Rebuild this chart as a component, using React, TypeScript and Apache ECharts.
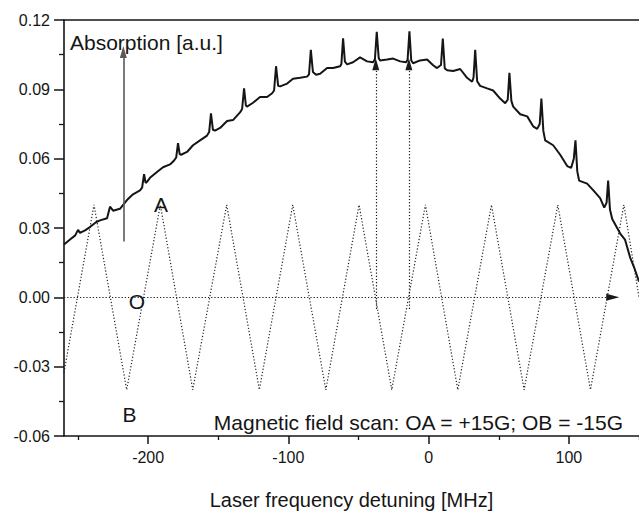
import React, { useEffect, useRef } from "react";
import * as echarts from "echarts";

// Absorption signal
const absorptionX = [
  -260, -255.7, -252, -250, -248.6, -245, -241.5, -237.2, -234.3, -229.3, -227.2, -225, -220.1, -215.1, -210.8,
  -205.8, -204.3, -202.9, -201.8, -200.8, -198.7, -193.7, -189.4, -184.4, -181.5, -180, -178.7, -177.5, -176.5,
  -172.3, -168, -163, -158, -156.5, -155.2, -153.8, -152.3, -148.7, -143.7, -139.5, -134.5, -133, -131.6, -130.3,
  -129.5, -125.2, -120.2, -115.2, -111.6, -110.2, -108.8, -107.3, -105.9, -100.9, -96.7, -91.7, -86.7, -85.3, -84,
  -82.5, -80.3, -77.4, -72.4, -68.1, -63.1, -62.2, -61, -59.7, -58.1, -53.9, -48.9, -43.9, -39.6, -38.3, -37,
  -35.6, -34.6, -29.6, -25.3, -20.3, -16.1, -15, -13.7, -12.4, -11.1, -6.1, -1.1, 3.2, 6, 8.8, 10.1, 11.5, 13.2,
  17.5, 22.5, 27.4, 31, 32, 33.2, 34.6, 36.7, 41.7, 46, 51, 54.6, 56.4, 57.6, 59, 60.3, 65.3, 70.3, 74.5, 77.4,
  79.2, 80.4, 81.8, 83.1, 88.8, 93.8, 98.8, 101.6, 103.5, 104.7, 106, 107.3, 113, 117.3, 122.3, 125.2, 126.9, 128,
  129.3, 130.9, 136.6, 140, 143.7, 146.5, 150,
];
const absorptionY = [
  0.0229, 0.025, 0.0268, 0.0292, 0.0279, 0.029, 0.0304, 0.0325, 0.0333, 0.0342, 0.0392, 0.0375, 0.0383, 0.0421, 0.0446,
  0.0463, 0.0475, 0.0533, 0.0495, 0.05, 0.0517, 0.0542, 0.0563, 0.0575, 0.0592, 0.0605, 0.0667, 0.062, 0.0617,
  0.0629, 0.0658, 0.0679, 0.07, 0.0715, 0.0796, 0.0725, 0.0721, 0.0733, 0.0763, 0.0767, 0.08, 0.0815, 0.0904, 0.083,
  0.0825, 0.0842, 0.0867, 0.0867, 0.0883, 0.0895, 0.1, 0.0915, 0.0913, 0.0925, 0.0946, 0.095, 0.0955, 0.0965, 0.1071,
  0.0975, 0.0963, 0.0967, 0.0992, 0.0992, 0.1, 0.101, 0.1121, 0.102, 0.1008, 0.1017, 0.1038, 0.1021, 0.1017, 0.103, 0.1149,
  0.1035, 0.1025, 0.1029, 0.1033, 0.1021, 0.1017, 0.1028, 0.1151, 0.1025, 0.1013, 0.1025, 0.1029, 0.1004, 0.0992, 0.1005, 0.112, 0.099, 0.0983,
  0.0979, 0.0988, 0.095, 0.0933, 0.095, 0.1071, 0.0935, 0.0915, 0.0904, 0.0895, 0.086, 0.084, 0.0855, 0.0971, 0.085, 0.0825, 0.0792, 0.0783, 0.074, 0.0729,
  0.075, 0.086, 0.072, 0.0679, 0.0658, 0.0617, 0.0568, 0.056, 0.06, 0.0679, 0.0545, 0.0505, 0.0492, 0.0464, 0.0429, 0.0388, 0.041, 0.0505,
  0.038, 0.0339, 0.0276, 0.025, 0.0172, 0.013, 0.0068,
];

// Magnetic field scan (triangle wave turning points)
const scanX = [-260, -238.6, -215.3, -191.3, -168.2, -144, -120.7, -96.9, -73.3, -49.6, -26.3, -2.3, 20.8, 44.8, 68.1, 92.1, 115.4, 139.2, 150];
const scanY = [-0.0325, 0.04, -0.04, 0.04, -0.04, 0.04, -0.04, 0.04, -0.04, 0.04, -0.04, 0.04, -0.04, 0.04, -0.04, 0.04, -0.04, 0.04, 0.0];

// Axis ticks
const xMajorTicks = [-200, -100, 0, 100];
const xMinorTicks = [-250, -150, -50, 50, 150];
const xRange = [-260, 150];
const yRange = [-0.06, 0.12];
const yStep = 0.03;

// Arrows (data coordinates)
const zeroArrow = { from: [-260, 0], to: [131.3, 0] };
const peakArrowsX = [-37.7, -14.1];
const peakArrowY = [-0.005, 0.1008];
const absorptionArrow = { x: -217.7, y0: 0.0242, y1: 0.1061 };

const FONT = '"Liberation Sans", Arial, Helvetica, sans-serif';
const INK = "#151515";

export default function App() {
  const ref = useRef<HTMLDivElement>(null);
  useEffect(() => {
    if (!ref.current) return;
    const chart = echarts.init(ref.current, undefined, { renderer: "svg" });
    const absData = absorptionX.map((x, i) => [x, absorptionY[i]]);
    const scanData = scanX.map((x, i) => [x, scanY[i]]);
    const dotted = [1.2, 2];
    const option: any = {
      animation: false,
      backgroundColor: "#ffffff",
      grid: { left: 64, top: 20, right: 0, bottom: 64 },
      xAxis: [
        {
          type: "value",
          position: "bottom",
          min: xRange[0],
          max: xRange[1],
          name: "Laser frequency detuning [MHz]",
          nameLocation: "middle",
          nameGap: 54,
          nameTextStyle: { fontFamily: FONT, fontSize: 20, color: INK },
          axisLine: { show: true, onZero: false, lineStyle: { color: INK, width: 1.6 } },
          axisTick: { show: true, customValues: xMajorTicks, length: 8, lineStyle: { color: INK, width: 1.5 } },
          axisLabel: { customValues: xMajorTicks, margin: 13, fontFamily: FONT, fontSize: 16, color: INK },
          splitLine: { show: false },
        },
        {
          type: "value",
          position: "bottom",
          min: xRange[0],
          max: xRange[1],
          axisLine: { show: false, onZero: false },
          axisTick: { show: true, customValues: xMinorTicks, length: 4, lineStyle: { color: INK, width: 1.3 } },
          axisLabel: { show: false, customValues: xMinorTicks },
          splitLine: { show: false },
        },
        {
          type: "value",
          position: "top",
          min: xRange[0],
          max: xRange[1],
          axisLine: { show: true, onZero: false, lineStyle: { color: INK, width: 1.6 } },
          axisTick: { show: false },
          axisLabel: { show: false },
          splitLine: { show: false },
        },
      ],
      yAxis: [
        {
          type: "value",
          min: yRange[0],
          max: yRange[1],
          interval: yStep,
          axisLine: { show: true, onZero: false, lineStyle: { color: INK, width: 1.6 } },
          axisTick: { show: true, length: 10, lineStyle: { color: INK, width: 1.5 } },
          minorTick: { show: true, splitNumber: 2, length: 5, lineStyle: { color: INK, width: 1.3 } },
          axisLabel: {
            margin: 14,
            fontFamily: FONT,
            fontSize: 16,
            color: INK,
            formatter: (v: number) => v.toFixed(2),
          },
          splitLine: { show: false },
        },
      ],
      series: [
        {
          type: "line",
          name: "scan",
          data: scanData,
          xAxisIndex: 0,
          yAxisIndex: 0,
          symbol: "none",
          silent: true,
          lineStyle: { color: "#222", width: 1.2, type: dotted },
          markLine: {
            silent: true,
            label: { show: false },
            symbol: ["none", "triangle"],
            symbolSize: 10,
            lineStyle: { color: "#1a1a1a", width: 1.2, type: dotted },
            data: [
              [
                { coord: zeroArrow.from, symbol: "none" },
                { coord: zeroArrow.to, symbol: "triangle", symbolSize: [7, 13] },
              ],
              ...peakArrowsX.map((x) => [
                { coord: [x, peakArrowY[0]], symbol: "none" },
                { coord: [x, peakArrowY[1]], symbol: "triangle", symbolSize: [7, 12] },
              ]),
            ],
          },
        },
        {
          type: "line",
          name: "absorption",
          data: absData,
          xAxisIndex: 0,
          yAxisIndex: 0,
          symbol: "none",
          silent: true,
          lineStyle: { color: INK, width: 2 },
          markLine: {
            silent: true,
            label: { show: false },
            symbol: ["none", "triangle"],
            symbolSize: 10,
            lineStyle: { color: "#5a5a5a", width: 1.6, type: "solid" },
            data: [
              [
                { coord: [absorptionArrow.x, absorptionArrow.y0], symbol: "none" },
                { coord: [absorptionArrow.x, absorptionArrow.y1], symbol: "triangle", symbolSize: [7, 12] },
              ],
            ],
          },
        },
      ],
      graphic: [
        {
          type: "text",
          silent: true,
          style: { text: "Absorption [a.u.]", x: 70, y: 42, font: `21px ${FONT}`, fill: INK, textAlign: "left", textVerticalAlign: "middle", verticalAlign: "middle" },
        },
        {
          type: "text",
          silent: true,
          style: { text: "A", x: 161, y: 204, font: `21px ${FONT}`, fill: INK, textAlign: "center", textVerticalAlign: "middle", verticalAlign: "middle" },
        },
        {
          type: "text",
          silent: true,
          style: { text: "O", x: 137, y: 301, font: `21px ${FONT}`, fill: INK, textAlign: "center", textVerticalAlign: "middle", verticalAlign: "middle" },
        },
        {
          type: "text",
          silent: true,
          style: { text: "B", x: 129.5, y: 414, font: `21px ${FONT}`, fill: INK, textAlign: "center", textVerticalAlign: "middle", verticalAlign: "middle" },
        },
        {
          type: "text",
          silent: true,
          style: {
            text: "Magnetic field scan: OA = +15G; OB = -15G",
            x: 623,
            y: 422,
            font: `21px ${FONT}`,
            fill: INK,
            textAlign: "right",
            textVerticalAlign: "middle",
            verticalAlign: "middle",
          },
        },
      ],
    };
    chart.setOption(option);
    return () => chart.dispose();
  }, []);
  return (
    <div
      ref={ref}
      style={{ position: "fixed", left: 0, top: 0, width: 639, height: 515, background: "#fff" }}
    />
  );
}
